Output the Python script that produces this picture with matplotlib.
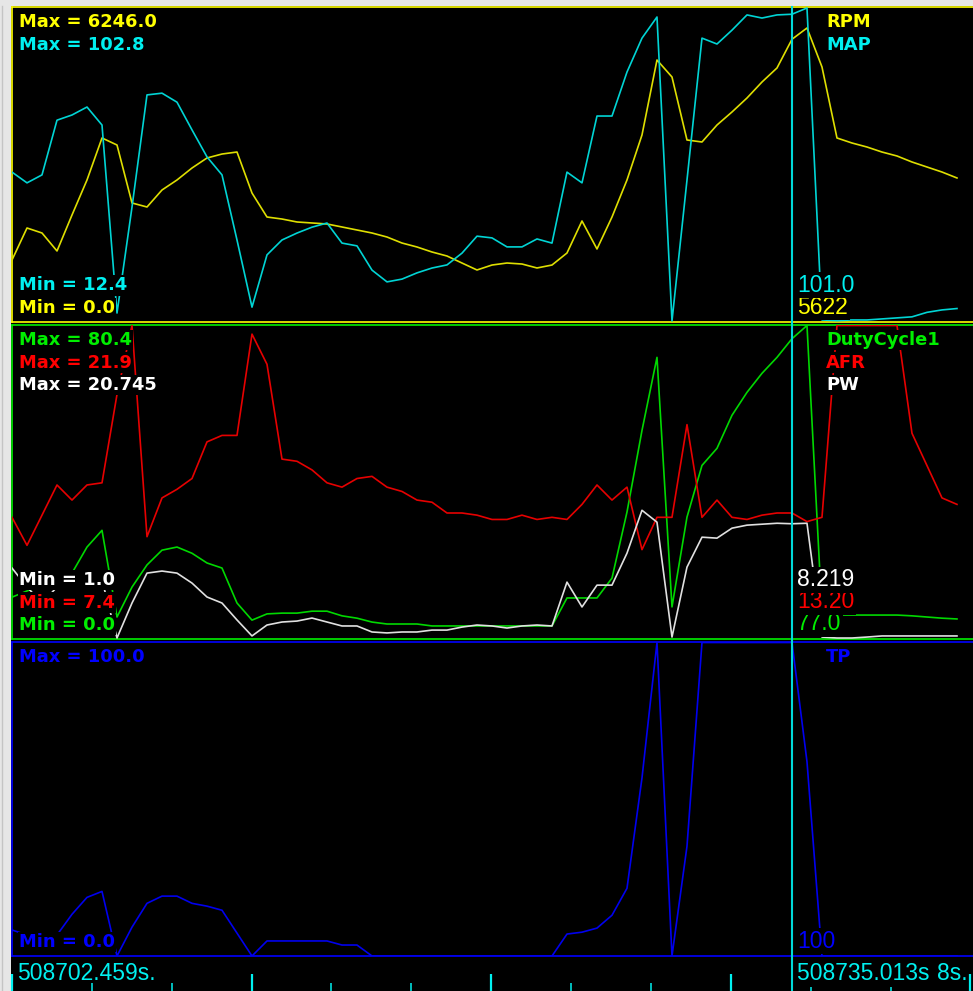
import numpy as np
import matplotlib
matplotlib.use("Agg")
import matplotlib.pyplot as plt
from matplotlib import transforms
from matplotlib.lines import Line2D
from matplotlib.patches import Rectangle
from matplotlib.ticker import MultipleLocator

# ---------------------------------------------------------------- log records
RPM = [1217, 1856, 1756, 1397, 2115, 2814, 3652, 3512, 2355, 2275,
       2614, 2814, 3053, 3253, 3332, 3372, 2554, 2075, 2035, 1976,
       1956, 1936, 1876, 1816, 1756, 1676, 1556, 1477, 1377, 1297,
       1157, 1018, 1117, 1157, 1137, 1058, 1117, 1357, 1996, 1437,
       2075, 2814, 3712, 5208, 4869, 3612, 3572, 3911, 4171, 4450,
       4769, 5049, 5622, 5847, 5069, 3652, 3552, 3472, 3372, 3293,
       3173, 3073, 2973, 2854]

MAP = [55.4, 52.3, 54.6, 70.4, 71.9, 74.2, 69.0, 14.7, 45.3, 77.7,
       78.2, 75.6, 67.6, 59.8, 54.6, 35.8, 16.4, 31.5, 35.8, 37.8,
       39.5, 40.7, 34.9, 34.1, 27.1, 23.7, 24.5, 26.3, 27.7, 28.6,
       32.0, 36.9, 36.4, 33.8, 33.8, 36.1, 34.9, 55.4, 52.3, 71.6,
       71.6, 84.3, 94.1, 100.2, 12.4, 53.1, 94.1, 92.4, 96.4, 100.8,
       99.9, 100.8, 101.0, 102.8, 12.7, 12.5, 12.7, 12.7, 13.0, 13.3,
       13.6, 14.9, 15.6, 16.0]

DUTY = [10.5, 12.1, 13.4, 14.9, 16.7, 23.4, 27.7, 5.4, 13.1, 18.8,
        22.6, 23.4, 21.8, 19.3, 18.0, 9.0, 4.6, 6.2, 6.4, 6.4,
        6.9, 6.9, 5.7, 5.1, 4.1, 3.6, 3.6, 3.6, 3.1, 3.1,
        3.1, 3.1, 3.1, 3.1, 3.1, 3.1, 3.1, 10.3, 10.3, 10.3,
        15.4, 32.4, 53.4, 72.2, 8.0, 31.1, 44.4, 48.8, 57.3, 63.2,
        68.1, 72.2, 77.0, 80.4, 6.4, 5.9, 5.9, 5.9, 5.9, 5.9,
        5.7, 5.4, 5.1, 4.9]

AFR = [13.0, 11.7, 13.1, 14.5, 13.8, 14.5, 14.6, 18.7, 21.9, 12.1,
       13.9, 14.3, 14.8, 16.5, 16.8, 16.8, 21.5, 20.1, 15.7, 15.6,
       15.2, 14.6, 14.4, 14.8, 14.9, 14.4, 14.2, 13.8, 13.7, 13.2,
       13.2, 13.1, 12.9, 12.9, 13.1, 12.9, 13.0, 12.9, 13.6, 14.5,
       13.8, 14.4, 11.5, 13.0, 13.0, 17.3, 13.0, 13.8, 13.0, 12.9,
       13.1, 13.2, 13.20, 12.8, 13.0, 21.9, 21.9, 21.9, 21.9, 21.9,
       16.9, 15.4, 13.9, 13.6]

PW = [5.42, 4.22, 3.21, 4.22, 4.78, 5.16, 4.66, 1.00, 3.21, 5.10,
      5.23, 5.10, 4.47, 3.59, 3.21, 2.14, 1.13, 1.82, 2.01, 2.07,
      2.26, 2.01, 1.76, 1.76, 1.38, 1.32, 1.38, 1.38, 1.50, 1.50,
      1.69, 1.82, 1.76, 1.63, 1.76, 1.82, 1.76, 4.53, 2.96, 4.34,
      4.34, 6.36, 9.07, 8.32, 1.06, 5.48, 7.37, 7.31, 7.94, 8.13,
      8.19, 8.25, 8.219, 8.25, 1.06, 1.00, 1.00, 1.06, 1.13, 1.13,
      1.13, 1.13, 1.13, 1.13]

TP = [8.3, 6.7, 5.1, 6.7, 13.3, 18.7, 20.6, 0.0, 9.2, 16.8,
      19.1, 19.1, 16.8, 15.9, 14.6, 7.3, 0.0, 4.8, 4.8, 4.8,
      4.8, 4.8, 3.5, 3.5, 0.0, 0.0, 0.0, 0.0, 0.0, 0.0,
      0.0, 0.0, 0.0, 0.0, 0.0, 0.0, 0.0, 7.0, 7.6, 8.9,
      13.0, 21.6, 56.8, 100.0, 0.0, 35.0, 100.0, 100.0, 100.0, 100.0,
      100.0, 100.0, 100.0, 62.0, 0.0, 0.0, 0.0, 0.0, 0.0, 0.0,
      0.0, 0.0, 0.0, 0.0]

# scale limits of each trace (min, max)
RPM_RANGE = (0.0, 6246.0)
MAP_RANGE = (12.4, 102.8)
DUTY_RANGE = (0.0, 80.4)
AFR_RANGE = (7.4, 21.9)
PW_RANGE = (1.0, 20.745)
TP_RANGE = (0.0, 100.0)

# time base
T_START = 508702.459
T_CURSOR = 508735.013
CURSOR_REC = 52
T_SPAN = 40.109

SAMPLE_DT = (T_CURSOR - T_START) / CURSOR_REC
t = np.arange(len(RPM)) * SAMPLE_DT
t_cur = t[CURSOR_REC]

# ---------------------------------------------------------------- styling
W, H, DPI = 973, 991, 100
LEFT = 12

YELLOW, YELLOW_L = "#ffff00", "#dede00"
CYAN, CYAN_L = "#00f0f0", "#00d4d4"
GREEN, GREEN_L = "#00ee00", "#00d800"
RED, RED_L = "#ff0000", "#e60000"
WHITE, WHITE_L = "#ffffff", "#e0e0e0"
BLUE, BLUE_L = "#0000ff", "#0000ee"

BOLD = dict(family="DejaVu Sans", weight="bold", size=12.9)
PLAIN = dict(family="Liberation Sans", size=16.5)
BLACK_BOX = dict(boxstyle="square,pad=0.08", fc="black", ec="none")
TRACE_LW = 1.2


def fx(x):
    return x / W


def fy(y):
    return 1.0 - y / H


PANELS = [
    dict(top=7, bottom=322, dtop=8, dbot=321, border=YELLOW,
         series=[("RPM", RPM, RPM_RANGE, "{:.0f}", YELLOW, YELLOW_L),
                 ("MAP", MAP, MAP_RANGE, "{:.1f}", CYAN, CYAN_L)]),
    dict(top=325, bottom=639, dtop=325.5, dbot=638, border=GREEN,
         series=[("DutyCycle1", DUTY, DUTY_RANGE, "{:.1f}", GREEN, GREEN_L),
                 ("AFR", AFR, AFR_RANGE, "{:.2f}", RED, RED_L),
                 ("PW", PW, PW_RANGE, "{:.3f}", WHITE, WHITE_L)]),
    dict(top=641.5, bottom=956, dtop=642.5, dbot=956, border=BLUE,
         series=[("TP", TP, TP_RANGE, "{:.0f}", BLUE, BLUE_L)]),
]

fig = plt.figure(figsize=(W / DPI, H / DPI), dpi=DPI, facecolor="#e6e6e6")
fig.add_artist(Rectangle((fx(11), 0), 1 - fx(11), fy(6), transform=fig.transFigure,
                         fc="black", ec="none", zorder=-5))
fig.add_artist(Line2D([fx(2), fx(2)], [0, fy(6)], transform=fig.transFigure,
                      color="#c4c4c4", lw=1.0, zorder=-4))

labels = []   # (x_px, baseline_px, text, colour, font)
first_ax = None
for pi, p in enumerate(PANELS):
    rect = [fx(LEFT), fy(p["bottom"]), (W - LEFT) / W, (p["bottom"] - p["top"]) / H]
    base = fig.add_axes(rect, label=f"panel{pi}")
    base.set_facecolor("black")
    base.set_xlim(0, T_SPAN)
    base.set_xticks([])
    base.set_yticks([])
    for side in ("top", "left", "bottom"):
        base.spines[side].set_color(p["border"])
        base.spines[side].set_linewidth(1.2)
    base.spines["right"].set_visible(False)
    if first_ax is None:
        first_ax = base

    for k, (name, vals, (vmin, vmax), fmt, tcol, lcol) in enumerate(p["series"]):
        ax = fig.add_axes(rect, label=f"panel{pi}_{name}", sharex=base)
        ax.patch.set_visible(False)
        ax.axis("off")
        per_px = (vmax - vmin) / (p["dbot"] - p["dtop"])
        ax.set_ylim(vmin - (p["bottom"] - p["dbot"]) * per_px,
                    vmax + (p["dtop"] - p["top"]) * per_px)
        ax.plot(t, vals, color=lcol, lw=TRACE_LW)

        labels.append((19, p["top"] + 20 + 22.5 * k, f"Max = {float(vmax)}", tcol, BOLD))
        labels.append((19, p["bottom"] - 9 - 22.5 * k, f"Min = {float(vmin)}", tcol, BOLD))
        labels.append((826, p["top"] + 20 + 22.5 * k, name, tcol, BOLD))
        labels.append((797, p["bottom"] - 8.5 - 22 * k, fmt.format(vals[CURSOR_REC]),
                       tcol, PLAIN))

# scale / cursor readouts sit above every trace
overlay = fig.add_axes([0, 0, 1, 1], label="readouts")
overlay.patch.set_visible(False)
overlay.axis("off")
for x, yb, s, col, font in labels:
    overlay.text(fx(x), fy(yb), s, color=col, transform=fig.transFigure,
                 va="baseline", bbox=BLACK_BOX, **font)

# time axis strip
tax = fig.add_axes([fx(LEFT), 0, (W - LEFT) / W, (H - 957) / H], label="time")
tax.set_facecolor("black")
for s in tax.spines.values():
    s.set_visible(False)
tax.set_xlim(0, T_SPAN)
tax.set_yticks([])
tax.xaxis.set_major_locator(MultipleLocator(10))
tax.xaxis.set_minor_locator(MultipleLocator(10 / 3))
tax.tick_params(axis="x", which="major", direction="in", length=12.2, width=1.6,
                color=CYAN, labelbottom=False)
tax.tick_params(axis="x", which="minor", direction="in", length=5.8, width=1.1,
                color=CYAN, labelbottom=False)
tkw = dict(transform=fig.transFigure, clip_on=False, va="baseline", color=CYAN, **PLAIN)
tax.text(fx(17), fy(980), f"{T_START:.3f}s.", **tkw)
tax.text(fx(968), fy(980), f"{T_START + T_SPAN:.3f}s.", ha="right", zorder=3, **tkw)
tax.text(fx(797), fy(980), f"{T_CURSOR:.3f}s ", zorder=4,
         bbox=dict(boxstyle="square,pad=0.08", fc="black", ec="none"), **tkw)

# cursor
blend = transforms.blended_transform_factory(first_ax.transData, fig.transFigure)
fig.add_artist(Line2D([t_cur, t_cur], [fy(7), 0], transform=blend,
                      color="#00d8d8", lw=1.5, zorder=5))

fig.savefig("out.png", dpi=DPI, facecolor=fig.get_facecolor())
